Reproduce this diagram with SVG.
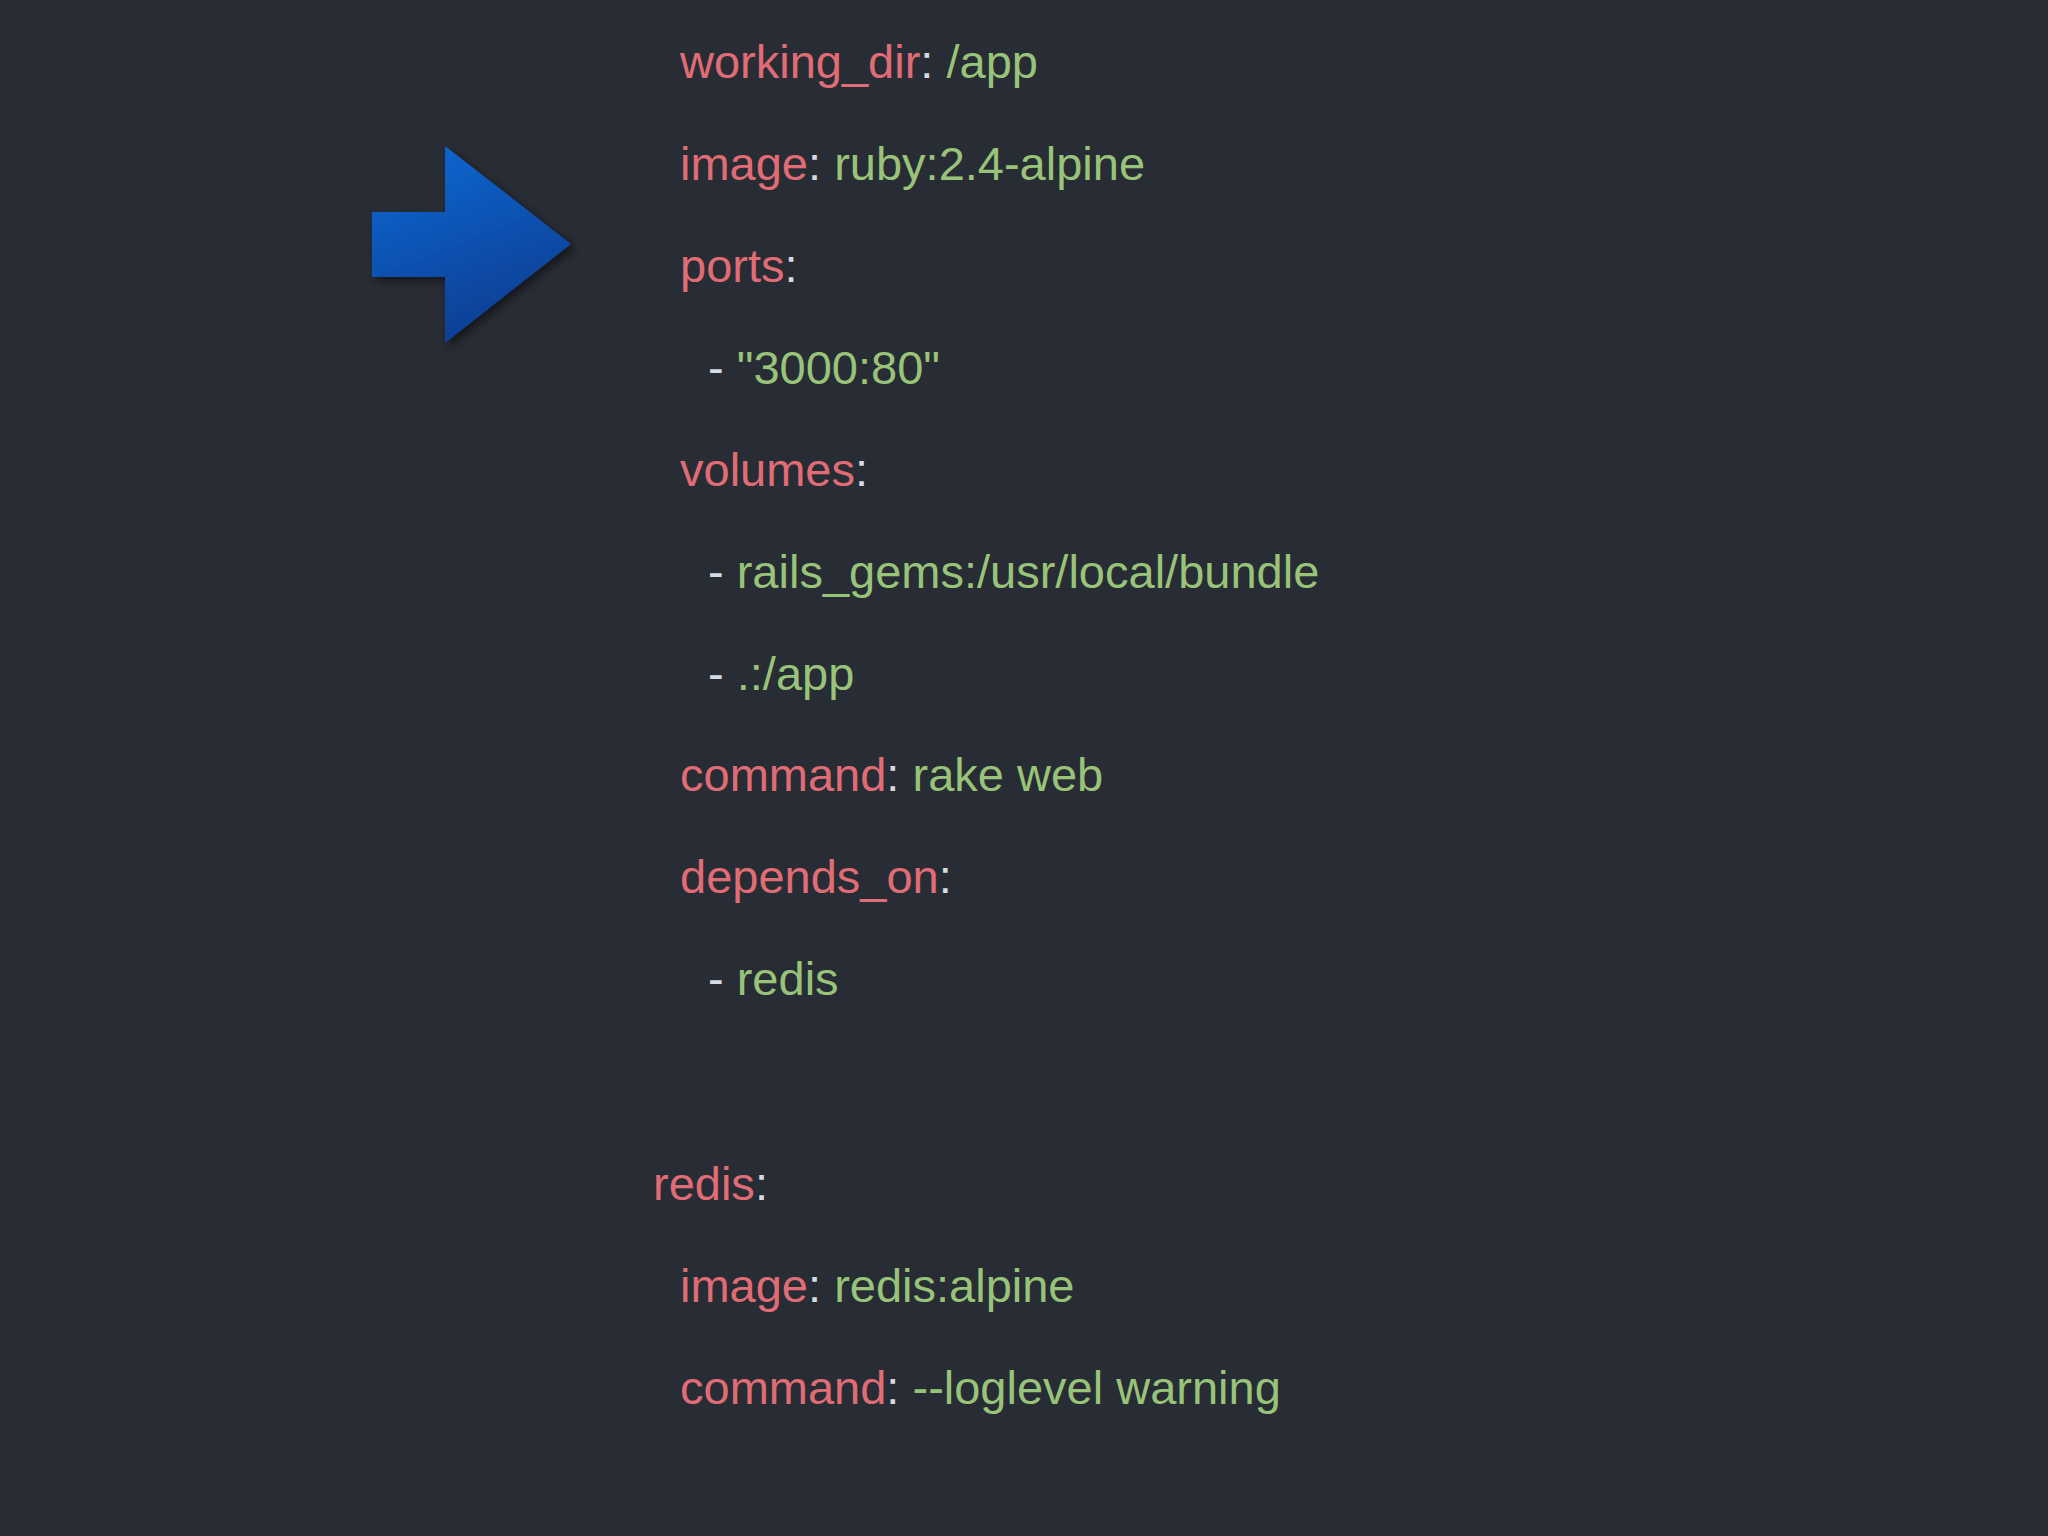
<svg xmlns="http://www.w3.org/2000/svg" width="2048" height="1536" viewBox="0 0 2048 1536">
<defs>
<style>
text{font-family:"Liberation Sans",Arial,sans-serif;font-size:47px}
.k{fill:#e06c75}.v{fill:#98c379}.p{fill:#d7dae0}
</style>
<linearGradient id="g" x1="0" y1="0" x2="0.4" y2="1">
<stop offset="0" stop-color="#0a6ad6"/><stop offset="1" stop-color="#0a3f95"/>
</linearGradient>
<filter id="s" x="-20%" y="-20%" width="150%" height="150%"><feDropShadow dx="4" dy="4" stdDeviation="4" flood-color="#000" flood-opacity="0.5"/></filter>
</defs>
<rect width="2048" height="1536" fill="#282c34"/>
<g id="arrow"><polygon points="372,212 445,212 445,146 571,244 445,343 445,277 372,277" fill="url(#g)" filter="url(#s)"/></g>
<g id="code">
<text x="680" y="78"><tspan class="k">working_dir</tspan><tspan class="p">: </tspan><tspan class="v">/app</tspan></text>
<text x="680" y="180"><tspan class="k">image</tspan><tspan class="p">: </tspan><tspan class="v">ruby:2.4-alpine</tspan></text>
<text x="680" y="282"><tspan class="k">ports</tspan><tspan class="p">:</tspan></text>
<text x="708" y="384"><tspan class="p">- </tspan><tspan class="v">"3000:80"</tspan></text>
<text x="680" y="486"><tspan class="k">volumes</tspan><tspan class="p">:</tspan></text>
<text x="708" y="588"><tspan class="p">- </tspan><tspan class="v">rails_gems:/usr/local/bundle</tspan></text>
<text x="708" y="690"><tspan class="p">- </tspan><tspan class="v">.:/app</tspan></text>
<text x="680" y="791"><tspan class="k">command</tspan><tspan class="p">: </tspan><tspan class="v">rake web</tspan></text>
<text x="680" y="893"><tspan class="k">depends_on</tspan><tspan class="p">:</tspan></text>
<text x="708" y="995"><tspan class="p">- </tspan><tspan class="v">redis</tspan></text>
<text x="653" y="1200"><tspan class="k">redis</tspan><tspan class="p">:</tspan></text>
<text x="680" y="1302"><tspan class="k">image</tspan><tspan class="p">: </tspan><tspan class="v">redis:alpine</tspan></text>
<text x="680" y="1404"><tspan class="k">command</tspan><tspan class="p">: </tspan><tspan class="v">--loglevel warning</tspan></text>
</g>
</svg>
